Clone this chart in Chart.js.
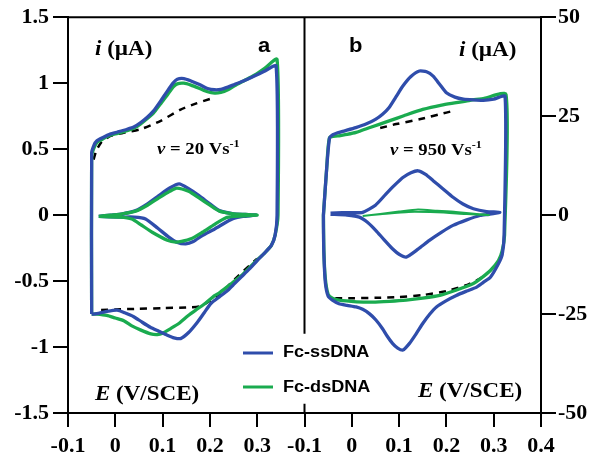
<!DOCTYPE html>
<html>
<head>
<meta charset="utf-8">
<script src="https://cdn.jsdelivr.net/npm/chart.js@4.4.1/dist/chart.umd.min.js"></script>
<style>
  html, body { margin: 0; padding: 0; background: #fff; }
  #wrap { width: 592px; height: 460px; }
</style>
</head>
<body>
<div id="wrap"><canvas id="cv" width="592" height="460"></canvas></div>
<script>
// panel b is drawn on the same x scale, shifted right by 0.5 V
const SHIFT_B = 0.5;

// tick values / labels
const xTickValues = [-0.1, 0, 0.1, 0.2, 0.3, 0.4, 0.5, 0.6, 0.7, 0.8, 0.9];
const xTickLabels = ['-0.1', '0', '0.1', '0.2', '0.3', '-0.1', '0', '0.1', '0.2', '0.3', '0.4'];
const leftTicks = [-1.5, -1, -0.5, 0, 0.5, 1, 1.5];
const rightTicks = [-50, -25, 0, 25, 50];

// ---- panel a : v = 20 V/s, current in µA (left axis)
const aSsE = [-0.05, -0.05, -0.045, -0.039, -0.025, -0.011, 0.005, 0.025, 0.04, 0.053, 0.067, 0.081, 0.095, 0.11, 0.122, 0.131, 0.145, 0.16, 0.178, 0.195, 0.21, 0.223, 0.238, 0.252, 0.273, 0.294, 0.315, 0.34, 0.342, 0.338, 0.33, 0.315, 0.30, 0.283, 0.266, 0.252, 0.238, 0.22, 0.202, 0.188, 0.174, 0.155, 0.138, 0.124, 0.11, 0.092, 0.074, 0.056, 0.039, 0.02, 0.004, -0.018, -0.039, -0.047, -0.05];
const aSsI = [-0.75, 0.47, 0.53, 0.563, 0.59, 0.614, 0.63, 0.651, 0.67, 0.70, 0.74, 0.79, 0.86, 0.94, 1.0, 1.03, 1.035, 1.017, 0.99, 0.96, 0.95, 0.953, 0.97, 0.99, 1.02, 1.054, 1.09, 1.13, 0.0, -0.15, -0.23, -0.29, -0.344, -0.41, -0.47, -0.52, -0.57, -0.62, -0.67, -0.74, -0.81, -0.89, -0.936, -0.93, -0.91, -0.88, -0.85, -0.81, -0.77, -0.74, -0.72, -0.73, -0.747, -0.75, -0.75];
const aDsE = [-0.05, -0.05, -0.045, -0.039, -0.025, -0.011, 0.005, 0.025, 0.04, 0.053, 0.067, 0.081, 0.095, 0.11, 0.122, 0.131, 0.145, 0.16, 0.178, 0.195, 0.21, 0.223, 0.238, 0.252, 0.273, 0.294, 0.315, 0.342, 0.344, 0.338, 0.33, 0.315, 0.30, 0.283, 0.266, 0.252, 0.238, 0.22, 0.21, 0.19, 0.17, 0.153, 0.135, 0.117, 0.1, 0.089, 0.075, 0.053, 0.035, 0.018, 0.0, -0.018, -0.039, -0.047, -0.05];
const aDsI = [-0.75, 0.45, 0.51, 0.55, 0.58, 0.605, 0.62, 0.64, 0.66, 0.69, 0.73, 0.775, 0.84, 0.91, 0.97, 0.995, 1.0, 0.985, 0.96, 0.935, 0.925, 0.93, 0.95, 0.98, 1.02, 1.06, 1.11, 1.18, 0.0, -0.15, -0.23, -0.29, -0.34, -0.40, -0.46, -0.50, -0.54, -0.59, -0.61, -0.67, -0.72, -0.765, -0.82, -0.86, -0.895, -0.905, -0.90, -0.87, -0.84, -0.80, -0.78, -0.76, -0.75, -0.75, -0.75];
const aBaseUpE = [-0.046, -0.04, -0.03, -0.01, 0.02, 0.053, 0.096, 0.138, 0.17, 0.2];
const aBaseUpI = [0.42, 0.49, 0.55, 0.6, 0.625, 0.65, 0.714, 0.80, 0.845, 0.88];
const aBaseLowE = [-0.03, 0.0, 0.05, 0.1, 0.15, 0.18, 0.22, 0.26, 0.30];
const aBaseLowI = [-0.72, -0.715, -0.71, -0.705, -0.70, -0.69, -0.6, -0.46, -0.33];
const aSsSubE = [-0.035, -0.01, 0.015, 0.043, 0.068, 0.092, 0.115, 0.135, 0.155, 0.177, 0.2, 0.22, 0.25, 0.275, 0.298, 0.27, 0.25, 0.234, 0.21, 0.184, 0.165, 0.149, 0.13, 0.113, 0.09, 0.064, 0.04, 0.01, -0.035];
const aSsSubI = [-0.01, 0.0, 0.01, 0.034, 0.085, 0.147, 0.205, 0.236, 0.2, 0.147, 0.085, 0.034, 0.01, 0.005, 0.0, -0.01, -0.025, -0.054, -0.105, -0.155, -0.2, -0.218, -0.205, -0.167, -0.1, -0.029, -0.015, -0.015, -0.01];
const aDsSubE = [-0.035, -0.01, 0.015, 0.043, 0.068, 0.092, 0.115, 0.13, 0.155, 0.177, 0.2, 0.22, 0.25, 0.275, 0.30, 0.27, 0.25, 0.234, 0.21, 0.184, 0.16, 0.14, 0.128, 0.11, 0.078, 0.055, 0.035, 0.01, -0.035];
const aDsSubI = [-0.01, 0.0, 0.01, 0.03, 0.075, 0.13, 0.18, 0.205, 0.18, 0.13, 0.075, 0.03, 0.01, 0.005, 0.0, -0.005, -0.01, -0.02, -0.07, -0.13, -0.18, -0.2, -0.205, -0.19, -0.13, -0.075, -0.03, -0.015, -0.01];

// ---- panel b : v = 950 V/s, current in µA (right axis)
const bSsE = [-0.06, -0.053, -0.047, -0.04, -0.03, -0.015, 0.0085, 0.03, 0.05, 0.065, 0.079, 0.093, 0.108, 0.125, 0.143, 0.158, 0.172, 0.186, 0.2, 0.218, 0.236, 0.257, 0.278, 0.3, 0.324, 0.322, 0.318, 0.31, 0.293, 0.278, 0.264, 0.243, 0.221, 0.2, 0.179, 0.165, 0.15, 0.136, 0.122, 0.108, 0.097, 0.086, 0.075, 0.065, 0.051, 0.037, 0.023, 0.009, -0.01, -0.027, -0.041, -0.05, -0.056, -0.059, -0.06, -0.06];
const bSsI = [0, 12, 19.5, 20.3, 20.8, 21.3, 22.1, 23.0, 24.2, 25.5, 27.2, 29.8, 32.6, 35.0, 36.4, 36.2, 35.1, 33.0, 30.9, 29.8, 29.3, 29.1, 29.0, 29.3, 30.0, -5, -10, -12.3, -15.7, -17.0, -18.2, -19.2, -20.3, -21.6, -23.2, -25.0, -27.4, -30.0, -32.4, -34.1, -33.6, -32.4, -30.6, -28.7, -26.5, -24.9, -23.8, -23.2, -22.8, -22.4, -21.5, -20.5, -17, -10, -3, 0];
const bDsE = [-0.06, -0.053, -0.047, -0.03, -0.01, 0.009, 0.04, 0.079, 0.11, 0.15, 0.19, 0.221, 0.25, 0.28, 0.326, 0.323, 0.318, 0.31, 0.293, 0.275, 0.257, 0.22, 0.186, 0.15, 0.115, 0.08, 0.044, 0.01, -0.027, -0.041, -0.05, -0.056, -0.059, -0.06];
const bDsI = [0, 12, 19.6, 20.0, 20.4, 20.9, 22.2, 23.8, 25.1, 26.7, 27.8, 28.4, 29.0, 29.5, 30.5, -5, -9, -11.5, -14, -15.8, -17.3, -19.0, -20.3, -21.0, -21.5, -21.8, -22.0, -21.9, -21.5, -21.0, -20.0, -16, -9, 0];
const bBaseUpE = [0.06, 0.094, 0.143, 0.2, 0.22];
const bBaseUpI = [22.0, 23.0, 24.2, 25.9, 26.5];
const bBaseLowE = [-0.035, 0.0, 0.05, 0.1, 0.15, 0.2, 0.24, 0.264, 0.285];
const bBaseLowI = [-21.0, -21.0, -20.9, -20.7, -20.2, -19.2, -17.8, -16.5, -15.0];
const bSsSubE = [-0.045, -0.02, 0.0, 0.023, 0.05, 0.072, 0.09, 0.108, 0.125, 0.14, 0.156, 0.172, 0.193, 0.214, 0.235, 0.257, 0.285, 0.313, 0.29, 0.271, 0.243, 0.214, 0.19, 0.164, 0.14, 0.115, 0.1, 0.086, 0.068, 0.051, 0.033, 0.016, -0.01, -0.045];
const bSsSubI = [0.5, 0.6, 0.6, 0.7, 2.5, 5.3, 7.5, 9.5, 10.7, 11.2, 10.3, 8.7, 6.6, 4.5, 2.8, 1.6, 0.9, 0.7, 0.2, -0.1, -1.2, -2.6, -4.3, -6.4, -8.6, -10.6, -9.9, -8.5, -6.2, -3.9, -1.8, -0.5, 0.0, 0.2];
const bDsSubE = [0.023, 0.06, 0.1, 0.14, 0.18, 0.22, 0.264, 0.29, 0.24, 0.18, 0.12, 0.06, 0.023];
const bDsSubI = [-0.2, 0.3, 0.9, 1.4, 1.1, 0.8, 0.3, 0.0, 0.3, 0.7, 0.8, 0.2, -0.2];

const BLUE = '#2f4dab';
const GREEN = '#1aab4f';
const SERIF = '"Liberation Serif", "Times New Roman", serif';
const SANS = '"Liberation Sans", Arial, sans-serif';

const pts = (E, I, shift) => E.map((e, k) => ({ x: e + shift, y: I[k] }));

function curve(E, I, shift, axis, color, width, order, dash) {
  return {
    data: pts(E, I, shift), yAxisID: axis, borderColor: color, borderWidth: width,
    borderDash: dash || [], pointRadius: 0, showLine: true, fill: false, tension: 0.2, order,
  };
}

const DASH = [7, 6];
const datasets = [
  curve(aBaseUpE, aBaseUpI, 0, 'y', '#000', 2.5, 10, DASH),
  curve(aBaseLowE, aBaseLowI, 0, 'y', '#000', 2.5, 10, DASH),
  curve(aDsE, aDsI, 0, 'y', GREEN, 3.3, 8),
  curve(aSsE, aSsI, 0, 'y', BLUE, 3.3, 7),
  curve(aSsSubE, aSsSubI, 0, 'y', BLUE, 3.3, 6),
  curve(aDsSubE, aDsSubI, 0, 'y', GREEN, 3.3, 5),

  curve(bBaseUpE, bBaseUpI, SHIFT_B, 'y2', '#000', 2.5, 10, DASH),
  curve(bBaseLowE, bBaseLowI, SHIFT_B, 'y2', '#000', 2.5, 10, DASH),
  curve(bDsE, bDsI, SHIFT_B, 'y2', GREEN, 3.3, 8),
  curve(bSsE, bSsI, SHIFT_B, 'y2', BLUE, 3.3, 7),
  curve(bSsSubE, bSsSubI, SHIFT_B, 'y2', BLUE, 3.3, 6),
  curve(bDsSubE, bDsSubI, SHIFT_B, 'y2', GREEN, 2, 5),
];

// draw a row of text pieces with a slight horizontal stretch
function runs(ctx, x, y, parts, sx) {
  ctx.save();
  ctx.translate(x, y);
  ctx.scale(sx, 1);
  ctx.textAlign = 'left';
  ctx.textBaseline = 'alphabetic';
  ctx.fillStyle = '#000';
  let cx = 0;
  parts.forEach(p => {
    ctx.font = p.f;
    ctx.fillText(p.t, cx, p.dy || 0);
    cx += ctx.measureText(p.t).width;
  });
  ctx.restore();
}

const frame = {
  id: 'frame',
  afterDraw(chart) {
    const { ctx, chartArea: ca, scales } = chart;
    const xs = scales.x, yl = scales.y;
    ctx.save();
    ctx.strokeStyle = '#000';
    ctx.lineWidth = 2;
    // top border
    ctx.beginPath();
    ctx.moveTo(ca.left - 1, ca.top);
    ctx.lineTo(ca.right + 1, ca.top);
    ctx.stroke();
    // divider between the two panels, interrupted by the legend
    const xd = xs.getPixelForValue(0.4);
    ctx.beginPath();
    ctx.moveTo(xd, ca.top);
    ctx.lineTo(xd, yl.getPixelForValue(-0.9));
    ctx.moveTo(xd, yl.getPixelForValue(-1.43));
    ctx.lineTo(xd, ca.bottom);
    ctx.stroke();

    // legend
    ctx.lineWidth = 3;
    ctx.strokeStyle = BLUE;
    ctx.beginPath(); ctx.moveTo(243, 353); ctx.lineTo(273, 353); ctx.stroke();
    ctx.strokeStyle = GREEN;
    ctx.beginPath(); ctx.moveTo(243, 387); ctx.lineTo(273, 387); ctx.stroke();
    ctx.restore();

    const L = 'bold 16px ' + SANS;
    runs(ctx, 283, 357, [{ t: 'Fc-ssDNA', f: L }], 1.13);
    runs(ctx, 283, 392, [{ t: 'Fc-dsDNA', f: L }], 1.13);

    const B = 'bold 20px ' + SERIF, BI = 'italic bold 20px ' + SERIF;
    runs(ctx, 95, 55, [{ t: 'i', f: BI }, { t: ' (µA)', f: B }], 1.15);
    runs(ctx, 459, 56, [{ t: 'i', f: BI }, { t: ' (µA)', f: B }], 1.15);
    runs(ctx, 95, 400, [{ t: 'E', f: BI }, { t: ' (V/SCE)', f: B }], 1.15);
    runs(ctx, 418, 397, [{ t: 'E', f: BI }, { t: ' (V/SCE)', f: B }], 1.15);

    const P = 'bold 20px ' + SANS;
    runs(ctx, 258, 52, [{ t: 'a', f: P }], 1.1);
    runs(ctx, 349, 52, [{ t: 'b', f: P }], 1.1);

    const V = 'bold 17px ' + SERIF, VI = 'italic bold 17px ' + SERIF, SUP = 'bold 11px ' + SERIF;
    runs(ctx, 157, 154, [{ t: 'v', f: VI }, { t: ' = 20 Vs', f: V }, { t: '-1', f: SUP, dy: -7 }], 1.1);
    runs(ctx, 390, 155, [{ t: 'v', f: VI }, { t: ' = 950 Vs', f: V }, { t: '-1', f: SUP, dy: -7 }], 1.1);
  },
};

const tickFont = { family: SERIF, size: 22, weight: 'bold' };
const gridOpts = { display: true, drawOnChartArea: false, drawTicks: true, tickLength: 15, tickWidth: 2, tickColor: '#000', color: '#000', lineWidth: 2 };
const borderOpts = { display: true, color: '#000', width: 2 };

new Chart(document.getElementById('cv'), {
  type: 'scatter',
  data: { datasets },
  options: {
    responsive: false,
    animation: false,
    layout: { padding: { top: 16, left: 0, right: 0, bottom: 0 } },
    plugins: { legend: { display: false }, tooltip: { enabled: false } },
    scales: {
      x: {
        type: 'linear', position: 'bottom', min: -0.1, max: 0.9,
        grid: { ...gridOpts, tickLength: 14 }, border: borderOpts,
        afterBuildTicks: s => { s.ticks = xTickValues.map(v => ({ value: v })); },
        afterFit: s => { s.height = 47; },
        ticks: {
          autoSkip: false, maxRotation: 0, padding: 6, color: '#000', font: tickFont,
          callback: (v, k) => xTickLabels[k],
        },
      },
      y: {
        type: 'linear', position: 'left', min: -1.5, max: 1.5,
        grid: gridOpts, border: borderOpts,
        afterBuildTicks: s => { s.ticks = leftTicks.map(v => ({ value: v })); },
        afterFit: s => { s.width = 68; },
        ticks: { padding: 4, color: '#000', font: tickFont, callback: v => String(v) },
      },
      y2: {
        type: 'linear', position: 'right', min: -50, max: 50,
        grid: gridOpts, border: borderOpts,
        afterBuildTicks: s => { s.ticks = rightTicks.map(v => ({ value: v })); },
        afterFit: s => { s.width = 51; },
        ticks: { padding: 2, color: '#000', font: tickFont, callback: v => String(v) },
      },
    },
  },
  plugins: [frame],
});
</script>
</body>
</html>
